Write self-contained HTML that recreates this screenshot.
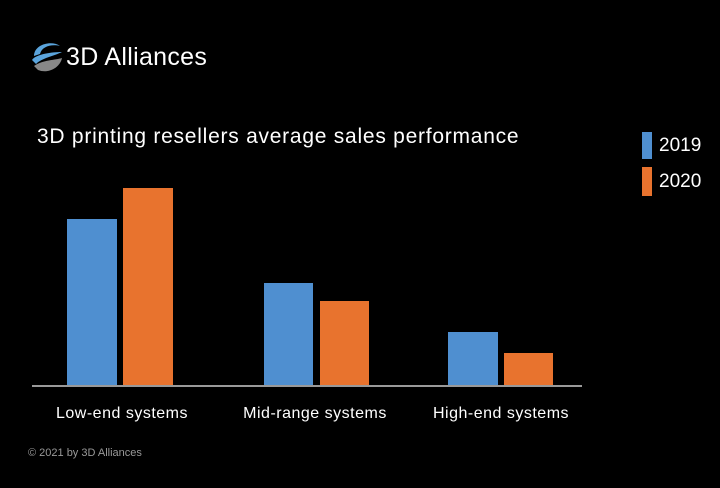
<!DOCTYPE html>
<html><head><meta charset="utf-8"><style>
body{margin:0;width:720px;height:488px;background:#000;overflow:hidden;font-family:"Liberation Sans",sans-serif;color:#fff;position:relative}
.a{position:absolute}
.b{position:absolute}
.l{position:absolute;font-size:16px;top:405px;text-align:center;width:200px;letter-spacing:0.5px}
</style></head><body>
<svg class="a" style="left:30px;top:38px" width="36" height="40" viewBox="0 0 36 40">
<path d="M4 18 C4 6 22 2 30 8 C22 6 12 8 10 16 Z" fill="#5aa4dc"/>
<path d="M2 22 C6 16 22 14 32 14 C24 18 12 20 6 26 Z" fill="#5aa4dc"/>
<path d="M4 28 C12 22 26 22 32 20 C30 30 18 36 8 32 Z" fill="#888"/>
</svg>
<div class="a" style="left:66px;top:43px;font-size:25px;letter-spacing:0.3px">3D Alliances</div>
<div class="a" style="left:37px;top:125px;font-size:21px;letter-spacing:0.75px">3D printing resellers average sales performance</div>
<div class="b" style="left:642px;top:132px;width:10px;height:27px;background:#4f8fd0"></div>
<div class="b" style="left:642px;top:167px;width:10px;height:29px;background:#e8732e"></div>
<div class="a" style="left:659px;top:135px;font-size:19px">2019</div>
<div class="a" style="left:659px;top:171px;font-size:19px">2020</div>
<div class="b" style="left:67px;top:219px;width:50px;height:167px;background:#4f8fd0"></div>
<div class="b" style="left:123px;top:188px;width:50px;height:198px;background:#e8732e"></div>
<div class="b" style="left:264px;top:283px;width:49px;height:103px;background:#4f8fd0"></div>
<div class="b" style="left:320px;top:301px;width:49px;height:85px;background:#e8732e"></div>
<div class="b" style="left:448px;top:332px;width:50px;height:54px;background:#4f8fd0"></div>
<div class="b" style="left:504px;top:353px;width:49px;height:33px;background:#e8732e"></div>
<div class="b" style="left:32px;top:385px;width:550px;height:2px;background:#999"></div>
<div class="l" style="left:22px">Low-end systems</div>
<div class="l" style="left:215px">Mid-range systems</div>
<div class="l" style="left:401px">High-end systems</div>
<div class="a" style="left:28px;top:447px;font-size:11px;color:#999">© 2021 by 3D Alliances</div>
</body></html>
